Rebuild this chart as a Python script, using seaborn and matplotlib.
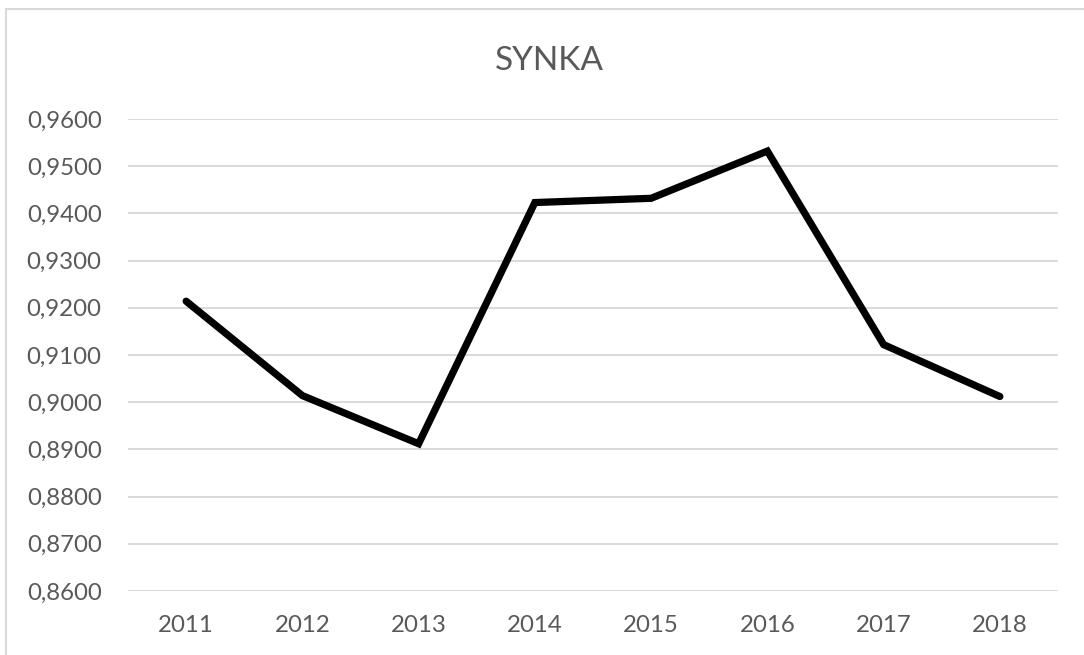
import matplotlib
matplotlib.use("Agg")
import matplotlib.pyplot as plt
from matplotlib.patches import Rectangle
from matplotlib.ticker import FuncFormatter
import seaborn as sns
import pandas as pd

years = ["2011", "2012", "2013", "2014", "2015", "2016", "2017", "2018"]
synka = [0.9214, 0.9014, 0.8912, 0.9423, 0.9432, 0.9532, 0.9122, 0.9012]
y_ticks = [0.86, 0.87, 0.88, 0.89, 0.90, 0.91, 0.92, 0.93, 0.94, 0.95, 0.96]

sns.set_theme(style="white")
plt.rcParams["font.family"] = ["Lato", "DejaVu Sans"]

df = pd.DataFrame({"year": years, "value": synka})

fig = plt.figure(figsize=(10.84, 6.55), dpi=100)
ax = fig.add_axes([128 / 1084, 1 - 591 / 655, 930 / 1084, 472 / 655])

sns.lineplot(data=df, x="year", y="value", ax=ax, color="black",
             linewidth=5.2, sort=False, solid_joinstyle="miter",
             solid_capstyle="round")

ax.set_xlim(-0.5, len(years) - 0.5)
ax.set_ylim(y_ticks[0], y_ticks[-1])
ax.set_yticks(y_ticks)
ax.yaxis.set_major_formatter(FuncFormatter(lambda v, _: f"{v:.4f}".replace(".", ",")))
ax.grid(axis="y", color="#d9d9d9", linewidth=1.4)
ax.set_axisbelow(True)
for s in ax.spines.values():
    s.set_visible(False)
ax.tick_params(axis="both", length=0, labelsize=17.3, colors="#595959")
ax.tick_params(axis="y", pad=19)
ax.tick_params(axis="x", pad=17)
ax.set_xlabel("")
ax.set_ylabel("")

fig.text(549 / 1084, 1 - 61 / 655, "SYNKA", ha="center", va="center",
         fontsize=24, color="#595959")

# light chart-area frame
fig.patches.append(Rectangle((6 / 1084, -0.05), 1.2, 1 - 9 / 655 + 0.05,
                             transform=fig.transFigure, fill=False,
                             edgecolor="#d9d9d9", linewidth=1.5))

fig.savefig("out.png", dpi=100, facecolor="white")
